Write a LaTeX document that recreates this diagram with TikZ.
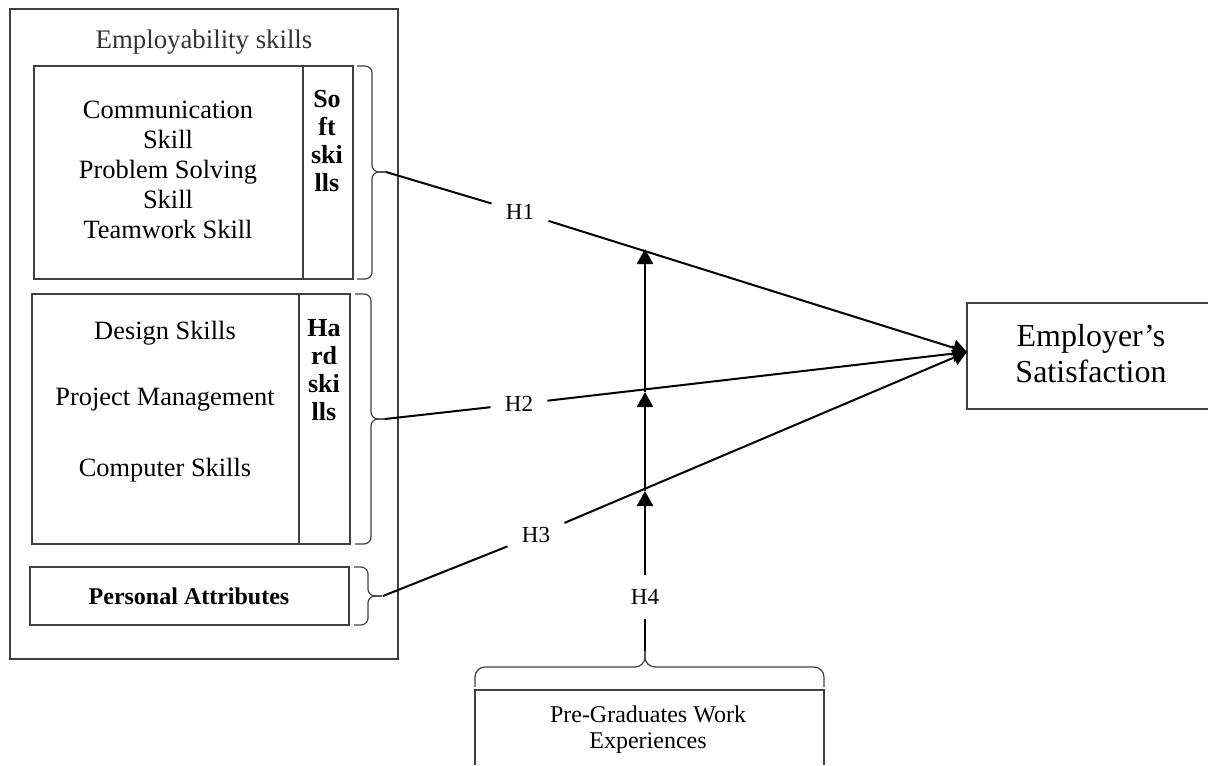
\documentclass[tikz,border=0pt]{standalone}
\usepackage{fontspec}
\setmainfont{Liberation Serif}
\usetikzlibrary{arrows.meta}
\definecolor{boxgray}{HTML}{404040}
\definecolor{textgray}{HTML}{333333}
\begin{document}
\begin{tikzpicture}[x=0.5pt,y=-0.5pt,
  box/.style={draw=boxgray,line width=0.6pt},
  brc/.style={draw=boxgray,line width=0.6pt,rounded corners=3.5pt},
  txt/.style={inner sep=0pt,align=center,font=\fontsize{13.2pt}{15pt}\selectfont},
  lbl/.style={inner sep=0pt,align=center,font=\bfseries\fontsize{13pt}{14pt}\selectfont},
  hyp/.style={inner xsep=7pt,inner ysep=7pt,font=\fontsize{11.5pt}{13pt}\selectfont},
  conn/.style={line width=1pt},
  arr/.style={line width=1pt,-{Triangle[length=7pt,width=8pt]}},
  varr/.style={line width=1.3pt,-{Triangle[length=7.5pt,width=8pt]}}]
\useasboundingbox (0,0) rectangle (1208,765);
% outer box
\draw[box] (10,9) rectangle (398,659);
\node[txt,text=textgray,font=\fontsize{13.4pt}{15pt}\selectfont] (emptitle) at (204,42) {Employability skills};
% soft skills
\draw[box] (34,66) rectangle (303,279);
\draw[box] (303,66) rectangle (353,279);
\node[txt] (softtxt) at (168,170) {Communication\\Skill\\Problem Solving\\Skill\\Teamwork Skill};
\node[lbl] (softlbl) at (327,141) {So\\ft\\ski\\lls};
% hard skills
\draw[box] (32,294) rectangle (299,544);
\draw[box] (299,294) rectangle (350,544);
\node[txt] (design) at (165,333) {Design Skills};
\node[txt] (project) at (165,400) {Project Management};
\node[txt] (computer) at (165,470) {Computer Skills};
\node[lbl] (hardlbl) at (324,370) {Ha\\rd\\ski\\lls};
% personal attributes
\draw[box] (30,567) rectangle (349,625);
\node[txt,font=\bfseries\fontsize{12pt}{14pt}\selectfont] (personal) at (189,596) {Personal Attributes};
% braces
\draw[brc] (357,66) -- (372,66) -- (372,172) -- (386,172);
\draw[brc] (357,279) -- (372,279) -- (372,172) -- (386,172);
\draw[brc] (355,294) -- (371,294) -- (371,419) -- (385,419);
\draw[brc] (355,544) -- (371,544) -- (371,419) -- (385,419);
\draw[brc] (354,567) -- (368,567) -- (368,596) -- (382,596);
\draw[brc] (354,625) -- (368,625) -- (368,596) -- (382,596);
\coordinate (b1) at (386,172);
\coordinate (b2) at (385,419);
\coordinate (b3) at (383,596);
% employer's satisfaction
\draw[box] (1208,303) -- (967,303) -- (967,409) -- (1208,409);
\node[txt,font=\fontsize{16pt}{18pt}\selectfont] (emp) at (1091,354) {Employer’s\\Satisfaction};
\coordinate (tip) at (967,352);
% pre-graduates
\draw[box] (475,765) -- (475,690) -- (824,690) -- (824,765);
\node[txt,font=\fontsize{12pt}{13pt}\selectfont] (pre) at (648,730) {Pre-Graduates Work\\Experiences};
\draw[brc,rounded corners=5pt] (475,687) -- (475,667) -- (645,667) -- (645,650);
\draw[brc,rounded corners=5pt] (824,687) -- (824,667) -- (645,667) -- (645,650);
\coordinate (b4) at (645,651);
% hypotheses
\node[hyp] (H1) at (520,212) {H1};
\node[hyp] (H2) at (519,404) {H2};
\node[hyp] (H3) at (536,535) {H3};
\node[hyp] (H4) at (645,597) {H4};
\draw[conn] (b1) -- (H1);
\draw[arr] (H1) -- (tip);
\draw[conn] (b2) -- (H2);
\draw[arr] (H2) -- (tip);
\draw[conn] (b3) -- (H3);
\draw[arr] (H3) -- (tip);
% moderating arrows
\coordinate (c1) at (645,249);
\coordinate (c2) at (645,392);
\coordinate (c3) at (645,491);
\draw[line width=1.3pt] (b4) -- (H4);
\draw[varr] (H4) -- (c3);
\draw[varr] (c3) -- (c2);
\draw[varr] (c2) -- (c1);
\end{tikzpicture}
\end{document}
